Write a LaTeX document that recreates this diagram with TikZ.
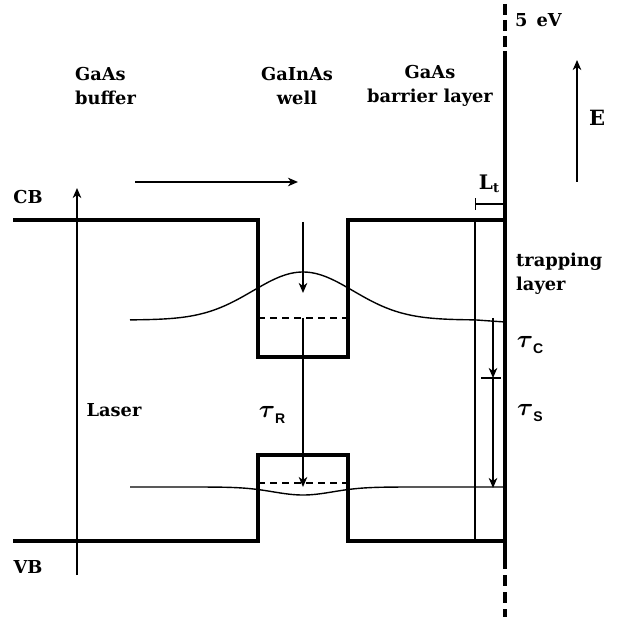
\documentclass[tikz,border=0pt]{standalone}
\usepackage{fontspec}
\usepackage{amsmath}
\setmainfont{DejaVu Serif}
\newfontfamily\subfont{Liberation Sans}
\usetikzlibrary{arrows.meta}
\begin{document}
\begin{tikzpicture}[x=1pt,y=-1pt,
  band/.style={line width=3.2pt},
  thinline/.style={line width=1.3pt},
  level/.style={line width=2.2pt, dash pattern=on 7pt off 5pt},
  wave/.style={line width=1.4pt},
  arr/.style={line width=2.2pt, -{Stealth[length=10pt,width=8.5pt,inset=3pt]}},
  lbl/.style={font=\fontsize{17.8}{24}\selectfont\bfseries, inner sep=0pt},
  tau/.style={font=\fontsize{26}{26}\selectfont, inner sep=0pt}]
\useasboundingbox (0,0) rectangle (618,617);

% coordinates
\coordinate (cbL) at (13,220);
\coordinate (cbW1) at (258,220);
\coordinate (cbW2) at (258,357);
\coordinate (cbW3) at (348,357);
\coordinate (cbW4) at (348,220);
\coordinate (cbR) at (505,220);
\coordinate (vbL) at (13,541);
\coordinate (vbW1) at (258,541);
\coordinate (vbW2) at (258,455);
\coordinate (vbW3) at (348,455);
\coordinate (vbW4) at (348,541);
\coordinate (vbR) at (505,541);
\coordinate (surfTop) at (505,4);
\coordinate (surfA) at (505,51);
\coordinate (surfB) at (505,558);
\coordinate (surfBot) at (505,617);
\coordinate (trapT) at (475,220);
\coordinate (trapB) at (475,541);

% band edges
\draw[band] (cbL) -- (cbW1) -- (cbW2) -- (cbW3) -- (cbW4) -- (cbR);
\draw[band] (vbL) -- (vbW1) -- (vbW2) -- (vbW3) -- (vbW4) -- (vbR);
\draw[band] (surfA) -- (surfB);
\draw[band, dash pattern=on 11pt off 5pt] (surfTop) -- (surfA);
\draw[band, dash pattern=on 11pt off 6pt] (surfB) -- (surfBot);
\draw[thinline] (trapT) -- (trapB);

% confined levels
\coordinate (e1L) at (258,318); \coordinate (e1R) at (348,318);
\coordinate (h1L) at (258,483); \coordinate (h1R) at (348,483);
\draw[level] (e1L) -- (e1R);
\draw[level] (h1L) -- (h1R);

% wavefunctions
\draw[wave] plot[domain=130:505, samples=120] (\x, {320-48*exp(-((\x-303)/71)^2)+(\x>475)*(\x-475)/15});
\draw[wave] plot[domain=130:505, samples=120] (\x, {487+8*exp(-((\x-303)/42)^2)});

% arrows
\coordinate (capT) at (303,222); \coordinate (capB) at (303,293);
\coordinate (recT) at (303,318); \coordinate (recB) at (303,487);
\draw[arr] (capT) -- (capB);
\draw[arr] (recT) -- (recB);
\coordinate (injL) at (135,182); \coordinate (injR) at (298,182);
\draw[arr] (injL) -- (injR);
\coordinate (lasB) at (77,575); \coordinate (lasT) at (77,188);
\draw[arr] (lasB) -- (lasT);
\coordinate (EB) at (577,182); \coordinate (ET) at (577,60);
\draw[arr] (EB) -- (ET);
\coordinate (tcT) at (493,318); \coordinate (tcB) at (493,378);
\coordinate (tsB) at (493,488);
\coordinate (tickL) at (481,378); \coordinate (tickR) at (501,378);
\draw[arr] (tcT) -- (tcB);
\draw[arr] (tcB) -- (tsB);
\draw[line width=1.5pt] (tickL) -- (tickR);
\coordinate (ltL) at (475,204); \coordinate (ltR) at (505,204);
\draw[line width=1.3pt, {Bar[width=12pt,line width=1.3pt]}-] (ltL) -- (ltR);

% labels
\node[lbl, anchor=west, align=left] (buffer) at (75,86) {GaAs\\buffer};
\node[lbl, align=center] (well) at (297,86) {GaInAs\\well};
\node[lbl, align=center] (barrier) at (430,86) {GaAs\\barrier layer};
\node[lbl] (cb) at (28,197) {CB};
\node[lbl] (vb) at (28,567) {VB};
\node[lbl] (laser) at (114,410) {Laser};
\node[lbl, anchor=west] (ev) at (515,20) {5\hspace{9pt}eV};
\node[lbl, font=\fontsize{21}{21}\selectfont\bfseries] (E) at (597,118) {E};
\node[lbl, font=\fontsize{20}{20}\selectfont\bfseries] (Lt) at (489,184) {L\raisebox{-3pt}{\fontsize{13}{13}\selectfont t}};
\node[lbl, anchor=west, align=left] (trap) at (516,274) {trapping\\layer};
\node[tau] (tauR) at (272,415) {$\boldsymbol{\tau}$\raisebox{-6pt}{\subfont\bfseries\fontsize{14}{14}\selectfont R}};
\node[tau] (tauC) at (530,345) {$\boldsymbol{\tau}$\raisebox{-6pt}{\subfont\bfseries\fontsize{14}{14}\selectfont C}};
\node[tau] (tauS) at (530,413) {$\boldsymbol{\tau}$\raisebox{-6pt}{\subfont\bfseries\fontsize{14}{14}\selectfont S}};
\end{tikzpicture}
\end{document}
